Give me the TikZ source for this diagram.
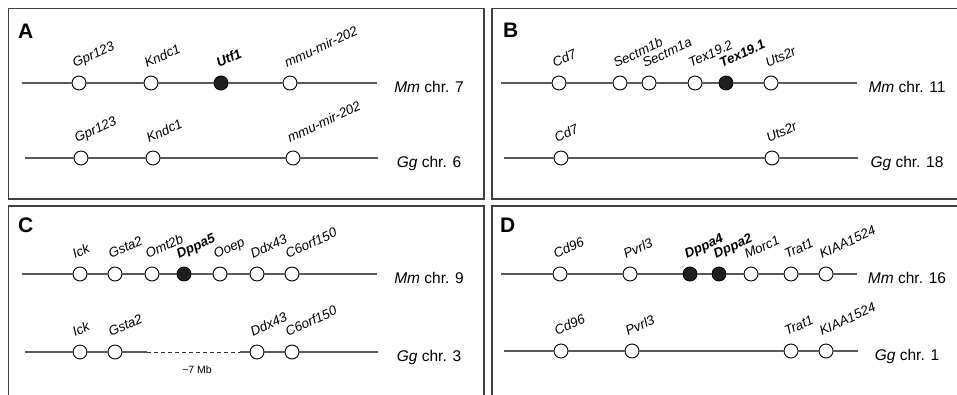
\documentclass[tikz,border=0pt]{standalone}
\usepackage{fontspec}
\setmainfont{Liberation Sans}
\usepackage{tikz}

\begin{document}
\begin{tikzpicture}[
  x=1pt,y=-1pt,
  panel/.style={draw=black!75,line width=1.3pt},
  tag/.style={anchor=base west,inner sep=0pt,font=\fontsize{21}{24}\selectfont\bfseries},
  chrom/.style={draw=black!65,line width=1.3pt},
  gap/.style={draw=black!80,line width=0.9pt,dash pattern=on 4pt off 3pt},
  gene/.style={circle,draw,line width=0.9pt,fill=white,minimum size=14pt,inner sep=0pt},
  hit/.style={gene,fill=black!88},
  lab/.style={rotate=25,anchor=base west,inner sep=0pt,font=\fontsize{13.3}{15}\selectfont\itshape},
  hitlab/.style={lab,font=\fontsize{13.3}{15}\selectfont\bfseries\itshape},
  chr/.style={anchor=base,inner sep=0pt,font=\fontsize{15.5}{18}\selectfont},
]
\useasboundingbox (0,0) rectangle (957,394);
\clip (0,0) rectangle (957,394);

%% frames
\draw[panel] (8.5,8.5) rectangle (484,199);
\draw[panel] (492,8.5) rectangle (965,199);
\draw[panel] (8.5,206) rectangle (484,400);
\draw[panel] (492,206) rectangle (965,400);
\node[tag] (tA) at (18,38) {A};
\node[tag] (tB) at (503,37) {B};
\node[tag] (tC) at (18,232) {C};
\node[tag] (tD) at (500,232) {D};

%% A
\coordinate (aMs) at (22,83);  \coordinate (aMe) at (377,83);
\node[gene] (aM1) at (79,83) {};
\node[gene] (aM2) at (151,83) {};
\node[hit]  (aM3) at (221,83) {};
\node[gene] (aM4) at (290,83) {};
\draw[chrom] (aMs) -- (aM1) -- (aM2) -- (aM3) -- (aM4) -- (aMe);
\node[lab]    at ([shift={(-4,-15)}]aM1.center) {Gpr123};
\node[lab]    at ([shift={(-4,-15)}]aM2.center) {Kndc1};
\node[hitlab] at ([shift={(-2,-15)}]aM3.center) {Utf1};
\node[lab]    at ([shift={(-3,-15)}]aM4.center) {mmu-mir-202};
\node[chr] (aM) at (429,92) {\itshape Mm\upshape{} chr. 7};

\coordinate (aGs) at (25,158);  \coordinate (aGe) at (378,158);
\node[gene] (aG1) at (81,158) {};
\node[gene] (aG2) at (153,158) {};
\node[gene] (aG3) at (293,158) {};
\draw[chrom] (aGs) -- (aG1) -- (aG2) -- (aG3) -- (aGe);
\node[lab] at ([shift={(-4,-15)}]aG1.center) {Gpr123};
\node[lab] at ([shift={(-4,-15)}]aG2.center) {Kndc1};
\node[lab] at ([shift={(-3,-15)}]aG3.center) {mmu-mir-202};
\node[chr] (aG) at (429,167) {\itshape Gg\upshape{} chr. 6};

%% B
\coordinate (bMs) at (501,83);  \coordinate (bMe) at (857,83);
\node[gene] (bM1) at (559,83) {};
\node[gene] (bM2) at (620,83) {};
\node[gene] (bM3) at (649,83) {};
\node[gene] (bM4) at (695,83) {};
\node[hit]  (bM5) at (726,83) {};
\node[gene] (bM6) at (771,83) {};
\draw[chrom] (bMs) -- (bM1) -- (bM2) -- (bM3) -- (bM4) -- (bM5) -- (bM6) -- (bMe);
\node[lab]    at ([shift={(-4,-15)}]bM1.center) {Cd7};
\node[lab]    at ([shift={(-4,-15)}]bM2.center) {Sectm1b};
\node[lab]    at ([shift={(-4,-15)}]bM3.center) {Sectm1a};
\node[lab]    at ([shift={(-4,-15)}]bM4.center) {Tex19.2};
\node[hitlab] at ([shift={(-4,-15)}]bM5.center) {Tex19.1};
\node[lab]    at ([shift={(-3,-15)}]bM6.center) {Uts2r};
\node[chr] (bM) at (907,92) {\itshape Mm\upshape{} chr. 11};

\coordinate (bGs) at (504,158);  \coordinate (bGe) at (858,158);
\node[gene] (bG1) at (561,158) {};
\node[gene] (bG2) at (772,158) {};
\draw[chrom] (bGs) -- (bG1) -- (bG2) -- (bGe);
\node[lab] at ([shift={(-4,-15)}]bG1.center) {Cd7};
\node[lab] at ([shift={(-3,-15)}]bG2.center) {Uts2r};
\node[chr] (bG) at (907,167) {\itshape Gg\upshape{} chr. 18};

%% C
\coordinate (cMs) at (22,274);  \coordinate (cMe) at (377,274);
\node[gene] (cM1) at (80,274) {};
\node[gene] (cM2) at (115,274) {};
\node[gene] (cM3) at (152,274) {};
\node[hit]  (cM4) at (184,274) {};
\node[gene] (cM5) at (220,274) {};
\node[gene] (cM6) at (257,274) {};
\node[gene] (cM7) at (292,274) {};
\draw[chrom] (cMs) -- (cM1) -- (cM2) -- (cM3) -- (cM4) -- (cM5) -- (cM6) -- (cM7) -- (cMe);
\node[lab]    at ([shift={(-5,-15)}]cM1.center) {Ick};
\node[lab]    at ([shift={(-4,-15)}]cM2.center) {Gsta2};
\node[lab]    at ([shift={(-4,-15)}]cM3.center) {Omt2b};
\node[hitlab] at ([shift={(-5,-15)}]cM4.center) {Dppa5};
\node[lab]    at ([shift={(-4,-15)}]cM5.center) {Ooep};
\node[lab]    at ([shift={(-4,-15)}]cM6.center) {Ddx43};
\node[lab]    at ([shift={(-4,-15)}]cM7.center) {C6orf150};
\node[chr] (cM) at (429,283) {\itshape Mm\upshape{} chr. 9};

\coordinate (cGs) at (25,352);  \coordinate (cGe) at (378,352);
\coordinate (cGa) at (147,352); \coordinate (cGb) at (240,352);
\node[gene] (cG1) at (80,352) {};
\node[gene] (cG2) at (115,352) {};
\node[gene] (cG3) at (257,352) {};
\node[gene] (cG4) at (292,352) {};
\draw[chrom] (cGs) -- (cG1) -- (cG2) -- (cGa);
\draw[gap] (cGa) -- (cGb);
\draw[chrom] (cGb) -- (cG3) -- (cG4) -- (cGe);
\node[lab] at ([shift={(-5,-15)}]cG1.center) {Ick};
\node[lab] at ([shift={(-4,-15)}]cG2.center) {Gsta2};
\node[lab] at ([shift={(-4,-15)}]cG3.center) {Ddx43};
\node[lab] at ([shift={(-4,-15)}]cG4.center) {C6orf150};
\node[font=\fontsize{10.5}{12}\selectfont] (mb) at (197,370) {\textasciitilde 7 Mb};
\node[chr] (cG) at (429,361) {\itshape Gg\upshape{} chr. 3};

%% D
\coordinate (dMs) at (501,274);  \coordinate (dMe) at (857,274);
\node[gene] (dM1) at (560,274) {};
\node[gene] (dM2) at (630,274) {};
\node[hit]  (dM3) at (690,274) {};
\node[hit]  (dM4) at (719,274) {};
\node[gene] (dM5) at (751,274) {};
\node[gene] (dM6) at (791,274) {};
\node[gene] (dM7) at (826,274) {};
\draw[chrom] (dMs) -- (dM1) -- (dM2) -- (dM3) -- (dM4) -- (dM5) -- (dM6) -- (dM7) -- (dMe);
\node[lab]    at ([shift={(-4,-15)}]dM1.center) {Cd96};
\node[lab]    at ([shift={(-4,-15)}]dM2.center) {Pvrl3};
\node[hitlab] at ([shift={(-3,-15)}]dM3.center) {Dppa4};
\node[hitlab] at ([shift={(-3,-15)}]dM4.center) {Dppa2};
\node[lab]    at ([shift={(-4,-15)}]dM5.center) {Morc1};
\node[lab]    at ([shift={(-4,-15)}]dM6.center) {Trat1};
\node[lab]    at ([shift={(-4,-15)}]dM7.center) {KIAA1524};
\node[chr] (dM) at (907,283) {\itshape Mm\upshape{} chr. 16};

\coordinate (dGs) at (504,351);  \coordinate (dGe) at (858,351);
\node[gene] (dG1) at (561,351) {};
\node[gene] (dG2) at (632,351) {};
\node[gene] (dG3) at (791,351) {};
\node[gene] (dG4) at (826,351) {};
\draw[chrom] (dGs) -- (dG1) -- (dG2) -- (dG3) -- (dG4) -- (dGe);
\node[lab] at ([shift={(-4,-15)}]dG1.center) {Cd96};
\node[lab] at ([shift={(-4,-15)}]dG2.center) {Pvrl3};
\node[lab] at ([shift={(-4,-15)}]dG3.center) {Trat1};
\node[lab] at ([shift={(-4,-15)}]dG4.center) {KIAA1524};
\node[chr] (dG) at (907,360) {\itshape Gg\upshape{} chr. 1};
\end{tikzpicture}
\end{document}
